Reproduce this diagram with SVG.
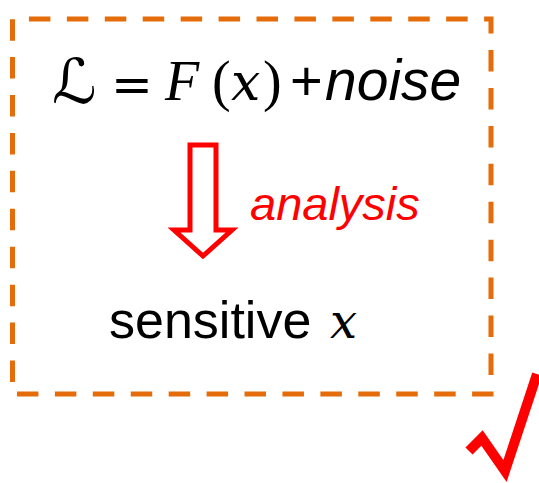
<svg xmlns="http://www.w3.org/2000/svg" width="539" height="483" viewBox="0 0 539 483">
<style>
.frame{fill:none;stroke:#E46C0A;stroke-width:5;stroke-dasharray:21.5 16.43;stroke-dashoffset:21.5}
.math{font-family:"Liberation Serif","DejaVu Serif",serif;font-style:italic}
.mathx{font-family:"DejaVu Serif",serif;font-style:italic}
.up{font-family:"Liberation Serif","DejaVu Serif",serif}
.sans{font-family:"Liberation Sans",Arial,sans-serif}
.red{fill:#FF0000}
</style>
<rect width="539" height="483" fill="#FFFFFF"/>
<g id="frame">
<path class="frame" d="M12.5,19 H491 V394 H12.5 Z"/>
</g>
<g id="formula">
<text x="52" y="103" font-family="DejaVu Serif,DejaVu Sans,serif" font-size="62">ℒ</text>
<text x="111" y="102" font-family="DejaVu Serif,serif" font-size="50">=</text>
<text x="165" y="100" class="math" font-size="56">F</text>
<text x="212" y="100" class="up" font-size="56">(</text>
<text x="231" y="100" class="mathx" font-size="52">x</text>
<text x="263" y="100" class="up" font-size="56">)</text>
<text x="290" y="100" class="sans" font-size="56">+</text>
<text x="325" y="100" class="sans" font-size="57" font-style="italic">noise</text>
</g>
<g id="connectors">
<path d="M190,145 H216 V230 H232 L203,256 L174,230 H190 Z" fill="none" stroke="#FF0000" stroke-width="5" stroke-linejoin="miter"/>
</g>
<g id="analysis-label">
<text x="250" y="220" class="sans red" font-size="47" font-style="italic">analysis</text>
</g>
<g id="result">
<text x="109" y="338" class="sans" font-size="52">sensitive</text>
<text x="330" y="338" class="mathx" font-size="48">x</text>
</g>
<g id="check">
<polyline points="469,451 482,438 505,471 537,374" fill="none" stroke="#FF0000" stroke-width="10" stroke-miterlimit="10"/>
</g>
</svg>
